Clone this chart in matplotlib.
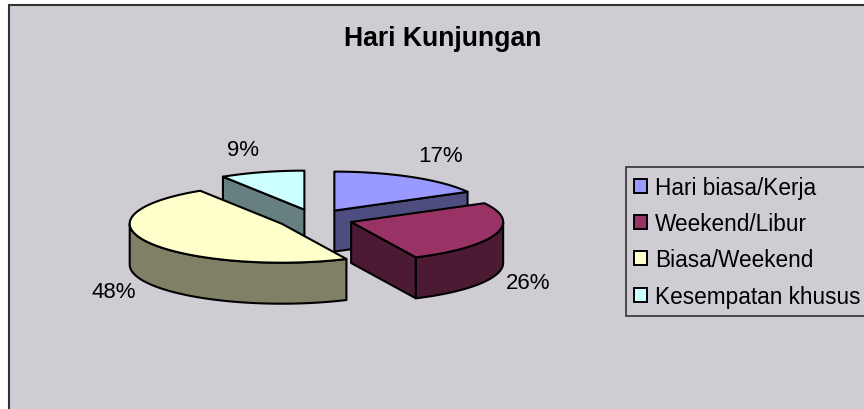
import numpy as np
import matplotlib
matplotlib.use("Agg")
import matplotlib.pyplot as plt
from matplotlib.patches import Polygon, Rectangle

title = "Hari Kunjungan"
categories = ["Hari biasa/Kerja", "Weekend/Libur", "Biasa/Weekend", "Kesempatan khusus"]
values = [17, 26, 48, 9]
top_colors = ["#9999FF", "#993366", "#FFFFCC", "#CCFFFF"]
side_colors = ["#4D4D80", "#4D1A33", "#808066", "#668080"]
draw_order = [3, 0, 2, 1]
label_pos = [(441, 157), (528, 284), (114, 293), (243, 151)]

W, H = 864, 410
CX, CY, A, B, DEPTH, EXPLODE = 315, 220, 152, 39, 41, 0.25
BG = "#CFCDD3"
LW = 1.5

plt.rcParams["font.family"] = ["Liberation Sans", "DejaVu Sans"]
fig = plt.figure(figsize=(W / 100, H / 100), dpi=100, facecolor="white")
ax = fig.add_axes([0, 0, 1, 1])
ax.set_xlim(0, W)
ax.set_ylim(H, 0)
ax.axis("off")

ax.add_patch(Rectangle((9, 6), W + 20, H + 20, fc=BG, ec="#333333", lw=1.5, zorder=0))


def pt(theta, cx, cy):
    return cx + A * np.sin(theta), cy - B * np.cos(theta)


edges = np.radians(np.concatenate([[0], np.cumsum(values)]) / sum(values) * 360)
z = 1
for i in draw_order:
    t0, t1 = edges[i], edges[i + 1]
    mid = (t0 + t1) / 2
    cx, cy = pt(mid, CX, CY)
    cx, cy = CX + (cx - CX) * EXPLODE, CY + (cy - CY) * EXPLODE
    style = dict(ec="black", lw=LW, joinstyle="round")

    # visible cut faces
    for t, show in ((t0, np.sin(t0) < -1e-6), (t1, np.sin(t1) > 1e-6)):
        if show:
            x, y = pt(t, cx, cy)
            ax.add_patch(Polygon([(cx, cy), (x, y), (x, y + DEPTH), (cx, cy + DEPTH)],
                                 fc=side_colors[i], zorder=z, **style))
            z += 1

    # outer wall: the front part of the rim
    lo, hi = max(t0, np.pi / 2), min(t1, 3 * np.pi / 2)
    if hi > lo:
        th = np.linspace(lo, hi, 120)
        xs, ys = pt(th, cx, cy)
        poly = np.r_[np.c_[xs, ys], np.c_[xs[::-1], ys[::-1] + DEPTH]]
        ax.add_patch(Polygon(poly, fc=side_colors[i], zorder=z, **style))
        z += 1

    # top face
    th = np.linspace(t0, t1, 200)
    xs, ys = pt(th, cx, cy)
    poly = np.r_[[(cx, cy)], np.c_[xs, ys]]
    ax.add_patch(Polygon(poly, fc=top_colors[i], zorder=z, **style))
    z += 1

total = sum(values)
for v, (x, y) in zip(values, label_pos):
    ax.text(x, y, f"{round(v / total * 100)}%", ha="center", va="center",
            fontsize=16, color="black", zorder=50)

ax.text(443, 39, title, ha="center", va="center", fontsize=19.2,
        fontweight="bold", color="black", zorder=50)

handles = [Rectangle((0, 0), 1, 1, fc=c, ec="black", lw=1.4) for c in top_colors]
leg = ax.legend(handles, categories, loc="upper left",
                bbox_to_anchor=(625.5, 168), bbox_transform=ax.transData,
                fontsize=16.3, frameon=True, fancybox=False, framealpha=1,
                facecolor=BG, edgecolor="#333333",
                handlelength=0.58, handleheight=0.58, handletextpad=0.36,
                labelspacing=0.59, borderpad=0.38, borderaxespad=0,
                labelcolor="black")
leg.get_frame().set_linewidth(1.2)
leg.set_zorder(60)

fig.savefig("out.png", dpi=100, facecolor="white")
